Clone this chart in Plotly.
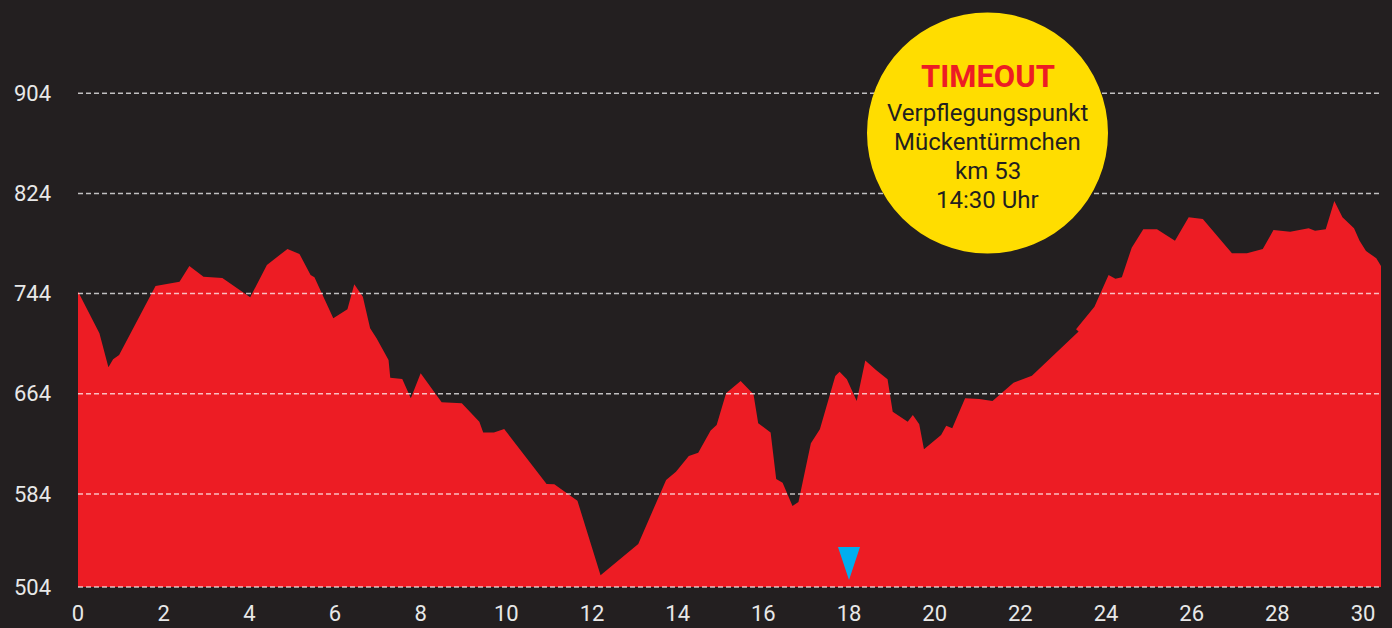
"""Elevation profile with a TIMEOUT badge (checkpoint Mückentürmchen)."""

import plotly.graph_objects as go

# --- data -------------------------------------------------------------------
KM = [
    0.00, 0.50, 0.71, 0.82, 0.96, 1.81, 2.37, 2.60, 2.93, 3.37,
    4.02, 4.41, 4.89, 5.17, 5.43, 5.52, 5.96, 6.29, 6.45, 6.65,
    6.82, 6.97, 7.25, 7.29, 7.57, 7.77, 8.00, 8.49, 8.96, 9.37,
    9.46, 9.71, 9.95, 10.94, 11.12, 11.66, 12.20, 13.08, 13.73, 13.96,
    14.26, 14.48, 14.77, 14.91, 15.13, 15.47, 15.77, 15.88, 16.17, 16.30,
    16.45, 16.68, 16.82, 17.11, 17.32, 17.68, 17.78, 17.95, 18.18, 18.38,
    18.63, 18.90, 19.02, 19.37, 19.49, 19.64, 19.75, 20.15, 20.27, 20.41,
    20.71, 21.04, 21.35, 21.84, 22.27, 23.36, 23.30, 23.73, 24.06, 24.22,
    24.37, 24.60, 24.87, 25.19, 25.61, 25.93, 26.26, 26.94, 27.29, 27.66,
    27.91, 28.30, 28.73, 28.88, 29.13, 29.33, 29.52, 29.79, 29.92, 30.07,
    30.31, 30.42,
]
ELEVATION = [
    745.6, 712.3, 685.2, 691.6, 695.0, 750.1, 753.5, 766.1, 757.5, 756.5,
    741.1, 766.9, 779.7, 775.7, 758.9, 757.1, 724.3, 731.5, 751.5, 741.6,
    716.3, 708.3, 691.0, 676.9, 675.8, 660.4, 680.4, 657.2, 656.4, 641.7,
    633.0, 633.0, 635.9, 592.0, 591.7, 578.6, 519.1, 544.1, 595.2, 601.8,
    614.3, 617.0, 634.6, 639.1, 664.4, 674.2, 663.6, 640.5, 633.0, 596.0,
    593.0, 574.4, 577.5, 624.5, 635.7, 678.2, 681.7, 675.6, 658.3, 690.5,
    683.0, 675.6, 649.7, 641.7, 647.1, 639.7, 619.7, 631.1, 638.5, 636.5,
    660.4, 659.9, 658.3, 672.9, 678.5, 713.8, 715.6, 733.6, 758.9, 755.9,
    757.1, 780.7, 795.4, 795.4, 786.3, 805.0, 803.6, 776.2, 776.2, 779.7,
    794.8, 793.5, 796.2, 794.3, 795.4, 818.0, 805.0, 796.2, 786.3, 778.1,
    772.2, 766.1,
]

X_TICKS = list(range(0, 31, 2))
Y_TICKS = [584, 664, 744, 824, 904]
Y_BOTTOM_LABEL = "504"
BASELINE = 509.7  # where the drawn floor of the profile sits
Y_RANGE = [508.1, 978.5]

MARKER_KM = 18
BADGE_TITLE = "TIMEOUT"
BADGE_LINES = ["Verpflegungspunkt", "Mückentürmchen", "km 53", "14:30 Uhr"]

BG = "#231f20"
RED = "#ed1c24"
YELLOW = "#ffdd00"
CYAN = "#00aeef"
GRID = "rgba(255,255,255,0.72)"
FONT = "Roboto, 'Noto Sans', sans-serif"

W, H = 1392, 628
M = dict(l=78, r=11, t=0, b=39)
PW, PH = W - M["l"] - M["r"], H - M["t"] - M["b"]

fig = go.Figure()

# floor of the area, then the profile filled down to it
fig.add_trace(go.Scatter(
    x=[KM[0], KM[-1]], y=[BASELINE, BASELINE], mode="lines",
    line=dict(width=0), hoverinfo="skip", showlegend=False,
))
fig.add_trace(go.Scatter(
    x=KM, y=ELEVATION, mode="lines", fill="tonexty",
    fillcolor=RED, line=dict(width=0, color=RED),
    hovertemplate="km %{x:.1f}<br>%{y:.0f} m<extra></extra>",
    showlegend=False,
))

# dashed guide lines sit on top of the red area
for yv in [BASELINE] + Y_TICKS:
    fig.add_shape(
        type="line", xref="paper", x0=0, x1=1, yref="y", y0=yv, y1=yv,
        line=dict(color=GRID, width=1.5, dash="5px,3px"), layer="above",
    )

# yellow badge (circle in pixel space, converted to paper fractions)
cx, cy, r = 987.5 - M["l"], PH - 133, 120.5
fig.add_shape(
    type="circle", xref="paper", yref="paper",
    x0=(cx - r) / PW, x1=(cx + r) / PW, y0=(cy - r) / PH, y1=(cy + r) / PH,
    fillcolor=YELLOW, line=dict(width=0), layer="above",
)
fig.add_annotation(
    xref="paper", yref="paper", x=cx / PW, y=(PH - 76) / PH,
    xanchor="center", yanchor="middle",
    text=f"<b>{BADGE_TITLE}</b>", showarrow=False,
    font=dict(family="Roboto, 'Liberation Sans', sans-serif",
              size=31, weight=900, color=RED),
)
for i, line in enumerate(BADGE_LINES):
    fig.add_annotation(
        xref="paper", yref="paper", x=cx / PW, y=(PH - 113 - 29 * i) / PH,
        xanchor="center", yanchor="middle",
        text=line, showarrow=False,
        font=dict(family=FONT, size=24, color=BG),
    )

# cyan checkpoint marker, anchored on km 18
fig.add_shape(
    type="path", xref="x", yref="y", xsizemode="pixel", ysizemode="pixel",
    xanchor=MARKER_KM, yanchor=BASELINE,
    path="M-11,40 L11,40 L0,7 Z",
    fillcolor=CYAN, line=dict(width=0), layer="above",
)

fig.update_layout(
    width=W, height=H, margin=M,
    paper_bgcolor=BG, plot_bgcolor=BG,
    font=dict(family=FONT, size=22, color="#e8e8e8"),
    xaxis=dict(
        range=[0, KM[-1]], tickvals=X_TICKS, showgrid=False, zeroline=False,
        showline=False, ticks="", ticklabelstandoff=9, automargin=False,
    ),
    yaxis=dict(
        range=Y_RANGE, tickvals=[BASELINE] + Y_TICKS,
        ticktext=[Y_BOTTOM_LABEL] + [str(v) for v in Y_TICKS],
        showgrid=False, zeroline=False, showline=False, ticks="",
        ticklabelstandoff=26, automargin=False,
    ),
)

fig.write_html(
    "out.html",
    config={"displayModeBar": False},
    post_script="document.body.style.margin='0';document.body.style.overflow='hidden';",
)
